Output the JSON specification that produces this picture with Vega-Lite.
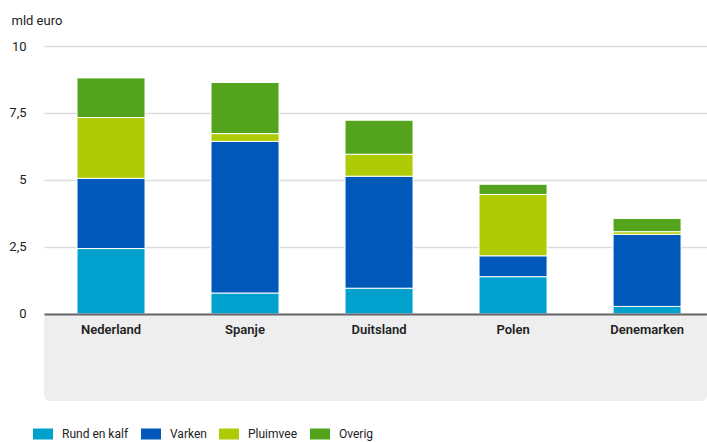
{
  "$schema": "https://vega.github.io/schema/vega-lite/v6.json",
  "width": 663,
  "height": 355,
  "autosize": {"type": "none"},
  "padding": {"left": 44, "top": 46, "right": 0, "bottom": 41},
  "config": {
    "view": {"stroke": null},
    "font": "Roboto",
    "axis": {"labelColor": "#222222", "titleColor": "#222222"}
  },
  "datasets": {
    "bars": [
      {"land": "Nederland", "soort": "Rund en kalf", "volgorde": 1, "waarde": 2.44},
      {"land": "Nederland", "soort": "Varken", "volgorde": 2, "waarde": 2.62},
      {"land": "Nederland", "soort": "Pluimvee", "volgorde": 3, "waarde": 2.27},
      {"land": "Nederland", "soort": "Overig", "volgorde": 4, "waarde": 1.48},
      {"land": "Spanje", "soort": "Rund en kalf", "volgorde": 1, "waarde": 0.78},
      {"land": "Spanje", "soort": "Varken", "volgorde": 2, "waarde": 5.66},
      {"land": "Spanje", "soort": "Pluimvee", "volgorde": 3, "waarde": 0.29},
      {"land": "Spanje", "soort": "Overig", "volgorde": 4, "waarde": 1.91},
      {"land": "Duitsland", "soort": "Rund en kalf", "volgorde": 1, "waarde": 0.96},
      {"land": "Duitsland", "soort": "Varken", "volgorde": 2, "waarde": 4.18},
      {"land": "Duitsland", "soort": "Pluimvee", "volgorde": 3, "waarde": 0.82},
      {"land": "Duitsland", "soort": "Overig", "volgorde": 4, "waarde": 1.27},
      {"land": "Polen", "soort": "Rund en kalf", "volgorde": 1, "waarde": 1.39},
      {"land": "Polen", "soort": "Varken", "volgorde": 2, "waarde": 0.78},
      {"land": "Polen", "soort": "Pluimvee", "volgorde": 3, "waarde": 2.29},
      {"land": "Polen", "soort": "Overig", "volgorde": 4, "waarde": 0.38},
      {"land": "Denemarken", "soort": "Rund en kalf", "volgorde": 1, "waarde": 0.28},
      {"land": "Denemarken", "soort": "Varken", "volgorde": 2, "waarde": 2.69},
      {"land": "Denemarken", "soort": "Pluimvee", "volgorde": 3, "waarde": 0.10},
      {"land": "Denemarken", "soort": "Overig", "volgorde": 4, "waarde": 0.49}
    ],
    "panel": [{"lo": -3.25, "hi": 0}]
  },
  "layer": [
    {
      "data": {"name": "panel"},
      "mark": {"type": "rect", "color": "#eeeeee", "cornerRadius": 6},
      "encoding": {
        "y": {"field": "lo", "type": "quantitative"},
        "y2": {"field": "hi"}
      }
    },
    {
      "data": {"name": "bars"},
      "mark": {"type": "bar", "stroke": "#ffffff", "strokeWidth": 1},
      "encoding": {
        "x": {
          "field": "land",
          "type": "nominal",
          "sort": null,
          "scale": {"paddingInner": 0.4925, "paddingOuter": 0.22, "align": 0.56},
          "axis": {
            "title": null,
            "offset": -87,
            "zindex": 1,
            "ticks": false,
            "domainColor": "#666666",
            "domainWidth": 2,
            "labelAngle": 0,
            "labelPadding": 9,
            "labelFontSize": 13,
            "labelFontWeight": 600
          }
        },
        "y": {
          "field": "waarde",
          "type": "quantitative",
          "stack": "zero",
          "scale": {"domain": [-3.25, 10], "nice": false, "zero": false},
          "axis": {
            "values": [0, 2.5, 5, 7.5, 10],
            "labelExpr": "replace(toString(datum.value), '.', ',')",
            "domain": false,
            "ticks": false,
            "labelPadding": 18,
            "labelFontSize": 13,
            "gridColor": "#dddddd",
            "gridWidth": 1.5,
            "title": "mld euro",
            "titleAngle": 0,
            "titleAlign": "left",
            "titleBaseline": "alphabetic",
            "titleX": -33,
            "titleY": -22,
            "titleFontSize": 13,
            "titleFontWeight": "normal"
          }
        },
        "order": {"field": "volgorde", "type": "quantitative", "sort": "ascending"},
        "color": {
          "field": "soort",
          "type": "nominal",
          "sort": ["Rund en kalf", "Varken", "Pluimvee", "Overig"],
          "scale": {
            "domain": ["Rund en kalf", "Varken", "Pluimvee", "Overig"],
            "range": ["#00a1cd", "#0058b8", "#afcb05", "#53a31d"]
          },
          "legend": {
            "title": null,
            "orient": "none",
            "direction": "horizontal",
            "legendX": -11,
            "legendY": 378,
            "symbolType": "M-1,-0.55H1V0.55H-1Z",
            "symbolSize": 400,
            "symbolStrokeWidth": 0,
            "symbolOpacity": 1,
            "labelFont": "Roboto",
            "labelFontSize": 12,
            "labelColor": "#222222",
            "labelOffset": 9,
            "columnPadding": 12
          }
        }
      }
    }
  ]
}
